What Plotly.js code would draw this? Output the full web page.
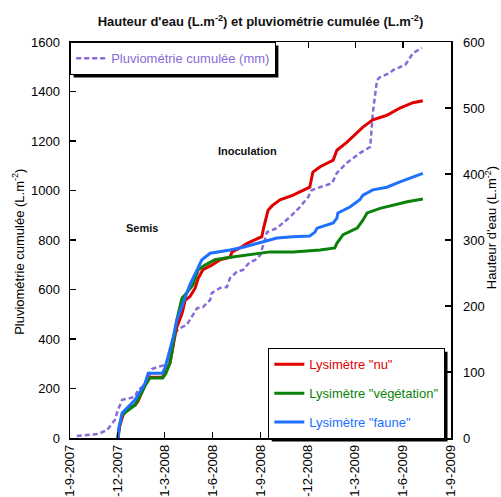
<!DOCTYPE html>
<html>
<head>
<meta charset="utf-8">
<script src="https://cdn.plot.ly/plotly-3.0.1.min.js"></script>
<style>html,body{margin:0;padding:0;background:#fff}#chart{width:501px;height:497px}</style>
</head>
<body>
<div id="chart"></div>
<script>
// ---- Data ----
const pluvioDates = ['2007-09-14','2007-10-25','2007-11-11','2007-11-26','2007-12-02','2007-12-10','2008-01-04','2008-01-09','2008-01-23','2008-02-05','2008-02-17','2008-03-01','2008-03-07','2008-03-15','2008-03-20','2008-03-30','2008-04-12','2008-04-22','2008-05-02','2008-05-13','2008-05-27','2008-05-30','2008-06-15','2008-06-28','2008-07-04','2008-07-17','2008-07-29','2008-08-11','2008-08-21','2008-08-31','2008-09-09','2008-09-13','2008-10-02','2008-10-27','2008-11-15','2008-12-01','2008-12-08','2008-12-24','2009-01-16','2009-01-25','2009-02-13','2009-03-10','2009-03-30','2009-04-04','2009-04-12','2009-04-18','2009-05-07','2009-05-13','2009-06-05','2009-06-09','2009-06-20','2009-07-07'];
const pluvioValues = [8,16,32,73,113,154,166,194,214,279,287,295,315,343,424,444,457,489,525,529,558,586,606,610,646,671,679,711,719,739,800,832,848,893,933,974,1002,1014,1030,1071,1111,1151,1176,1313,1446,1458,1475,1487,1507,1519,1555,1576];

const nuDates = ['2007-12-02','2007-12-03','2007-12-06','2007-12-12','2007-12-21','2008-01-04','2008-01-09','2008-01-23','2008-02-01','2008-02-25','2008-03-01','2008-03-11','2008-03-15','2008-03-20','2008-03-24','2008-04-03','2008-04-09','2008-04-18','2008-04-28','2008-05-04','2008-05-13','2008-05-30','2008-06-15','2008-07-04','2008-07-08','2008-07-23','2008-08-06','2008-08-21','2008-09-03','2008-09-07','2008-09-15','2008-09-23','2008-10-08','2008-11-02','2008-11-29','2008-12-04','2008-12-10','2008-12-24','2009-01-18','2009-01-25','2009-02-13','2009-03-05','2009-03-16','2009-04-04','2009-05-01','2009-05-26','2009-06-20','2009-07-09'];
const nuValues = [0,5,20,35,45,50,55,80,92,92,98,114,133,153,168,189,209,214,227,242,255,262,270,274,282,288,295,300,305,320,345,352,361,368,379,380,403,411,421,436,448,462,471,482,489,500,508,511];

const vegDates = ['2007-12-02','2007-12-04','2007-12-10','2008-01-04','2008-01-23','2008-02-01','2008-02-26','2008-03-03','2008-03-11','2008-03-19','2008-03-24','2008-04-03','2008-04-09','2008-04-24','2008-05-04','2008-05-17','2008-06-05','2008-06-28','2008-07-23','2008-08-17','2008-09-19','2008-11-02','2008-12-24','2009-01-21','2009-01-25','2009-02-06','2009-03-05','2009-03-16','2009-03-24','2009-04-18','2009-05-13','2009-06-09','2009-07-09'];
const vegValues = [0,15,35,50,79,91,91,98,114,153,179,212,217,232,255,262,270,273,276,279,282,282,285,288,295,308,318,330,341,348,353,358,362];

const fauneDates = ['2007-12-02','2007-12-04','2007-12-10','2008-01-04','2008-01-23','2008-01-29','2008-02-25','2008-03-01','2008-03-07','2008-03-17','2008-03-24','2008-04-05','2008-04-18','2008-05-02','2008-05-11','2008-05-27','2008-06-15','2008-07-04','2008-07-29','2008-08-25','2008-09-19','2008-10-02','2008-11-02','2008-12-04','2008-12-14','2008-12-18','2009-01-18','2009-01-25','2009-01-27','2009-02-19','2009-03-10','2009-03-16','2009-04-04','2009-05-01','2009-05-26','2009-06-20','2009-07-09'];
const fauneValues = [0,15,38,58,83,98,98,106,123,153,179,205,232,255,270,280,282,285,289,295,300,303,305,306,312,318,326,333,341,350,361,368,376,380,388,395,401];

const xTickVals = ['2007-09-01','2007-12-01','2008-03-01','2008-06-01','2008-09-01','2008-12-01','2009-03-01','2009-06-01','2009-09-01'];
const xTickText = ['1-9-2007','1-12-2007','1-3-2008','1-6-2008','1-9-2008','1-12-2008','1-3-2009','1-6-2009','1-9-2009'];
const leftTicks = [0,200,400,600,800,1000,1200,1400,1600];
const rightTicks = [0,100,200,300,400,500,600];

// ---- Styles ----
const FONT = 'Liberation Sans, Arial, Helvetica, sans-serif';
const C_RED = '#e00000', C_GREEN = '#0a820a', C_BLUE = '#2070ff', C_PURPLE = '#8a6ad8';
const ML = 70, MR = 50, MT = 42, MB = 59, W = 501, H = 497;

const traces = [
  {x: pluvioDates, y: pluvioValues, yaxis: 'y', type: 'scatter', mode: 'lines',
   name: 'Pluviométrie cumulée (mm)', legend: 'legend',
   line: {color: C_PURPLE, width: 2.5, dash: '5px,3px'}},
  {x: nuDates, y: nuValues, yaxis: 'y2', type: 'scatter', mode: 'lines',
   name: '<span style="color:' + C_RED + '">Lysimètre "nu"</span>', legend: 'legend2', legendgroup: 'a',
   line: {color: C_RED, width: 3}},
  {x: vegDates, y: vegValues, yaxis: 'y2', type: 'scatter', mode: 'lines',
   name: '<span style="color:' + C_GREEN + '">Lysimètre "végétation"</span>', legend: 'legend2', legendgroup: 'b',
   line: {color: C_GREEN, width: 3}},
  {x: fauneDates, y: fauneValues, yaxis: 'y2', type: 'scatter', mode: 'lines',
   name: '<span style="color:' + C_BLUE + '">Lysimètre "faune"</span>', legend: 'legend2', legendgroup: 'c',
   line: {color: C_BLUE, width: 3}}
];

const layout = {
  width: W, height: H,
  margin: {l: ML, r: MR, t: MT, b: MB, pad: 0},
  paper_bgcolor: '#fff', plot_bgcolor: '#fff',
  font: {family: FONT, size: 13, color: '#000'},
  showlegend: true,
  title: {text: "Hauteur d'eau (L.m<sup>-2</sup>) et pluviométrie cumulée (L.m<sup>-2</sup>)",
          font: {family: FONT, size: 13, color: '#111', weight: 'bold'},
          x: 0.5, xref: 'paper', xanchor: 'center', y: 0.956, yref: 'container', yanchor: 'middle'},
  xaxis: {type: 'date', range: ['2007-09-01', '2009-09-01'], tickmode: 'array',
          tickvals: xTickVals, ticktext: xTickText, tickangle: -90,
          ticks: 'inside', ticklen: 6, tickwidth: 1.2, tickcolor: '#000',
          showline: true, linecolor: '#000', linewidth: 1.5, mirror: 'ticks',
          showgrid: false, zeroline: false, automargin: false,
          tickfont: {family: FONT, size: 13, color: '#000'}},
  yaxis: {range: [0, 1600], tickmode: 'array', tickvals: leftTicks,
          ticks: 'inside', ticklen: 6, tickwidth: 1.2, tickcolor: '#000',
          showline: true, linecolor: '#000', linewidth: 1.5,
          showgrid: false, zeroline: false, automargin: false, ticklabelstandoff: 6,
          tickfont: {family: FONT, size: 13, color: '#000'}},
  yaxis2: {range: [0, 600], overlaying: 'y', side: 'right', tickmode: 'array', tickvals: rightTicks,
          ticks: 'inside', ticklen: 6, tickwidth: 1.2, tickcolor: '#000',
          showline: true, linecolor: '#000', linewidth: 1.5,
          showgrid: false, zeroline: false, automargin: false, ticklabelstandoff: 8,
          tickfont: {family: FONT, size: 13, color: '#000'}},
  legend: {x: 0, y: 1, xref: 'paper', yref: 'paper', xanchor: 'left', yanchor: 'top',
           bgcolor: '#fff', bordercolor: '#000', borderwidth: 1.2,
           font: {family: FONT, size: 13, color: C_PURPLE}},
  legend2: {x: 0.52, y: 0.227, xref: 'paper', yref: 'paper', xanchor: 'left', yanchor: 'top',
            bgcolor: '#fff', bordercolor: '#000', borderwidth: 1.2, tracegroupgap: 9,
            font: {family: FONT, size: 13, color: '#000'}},
  annotations: [
    {text: 'Semis', x: 0.189, y: 0.53, xref: 'paper', yref: 'paper', showarrow: false,
     xanchor: 'center', yanchor: 'middle',
     font: {family: FONT, size: 11, color: '#111', weight: 'bold'}},
    {text: 'Inoculation', x: 0.465, y: 0.725, xref: 'paper', yref: 'paper', showarrow: false,
     xanchor: 'center', yanchor: 'middle',
     font: {family: FONT, size: 11, color: '#111', weight: 'bold'}},
    {text: 'Pluviométrie cumulée (L.m<sup>-2</sup>)', x: -0.1365, y: 0.47, xref: 'paper', yref: 'paper',
     xanchor: 'center', yanchor: 'middle',
     showarrow: false, textangle: -90, font: {family: FONT, size: 13, color: '#000'}},
    {text: "Hauteur d'eau (L.m<sup>-2</sup>)", x: 1.105, y: 0.53, xref: 'paper', yref: 'paper',
     xanchor: 'center', yanchor: 'middle',
     showarrow: false, textangle: -90, font: {family: FONT, size: 13, color: '#000'}}
  ]
};

Plotly.newPlot('chart', traces, layout, {displayModeBar: false, staticPlot: true}).then(function (gd) {
  const root = gd.getBoundingClientRect();
  const pw = W - ML - MR, ph = H - MT - MB;
  const shapes = [];
  gd.querySelectorAll('g.infolayer > g[class^="legend"] rect.bg').forEach(function (r) {
    const b = r.getBoundingClientRect();
    const l = b.left - root.left, t = b.top - root.top, rr = b.right - root.left, bb = b.bottom - root.top;
    const off = 3;
    shapes.push({type: 'rect', xref: 'paper', yref: 'paper', layer: 'above',
      x0: (l + off - ML) / pw, x1: (rr + off - ML) / pw,
      y0: (H - MB - (bb + off)) / ph, y1: (H - MB - (t + off)) / ph,
      fillcolor: '#000', line: {width: 0}});
  });
  return Plotly.relayout(gd, {shapes: shapes});
});
</script>
</body>
</html>
